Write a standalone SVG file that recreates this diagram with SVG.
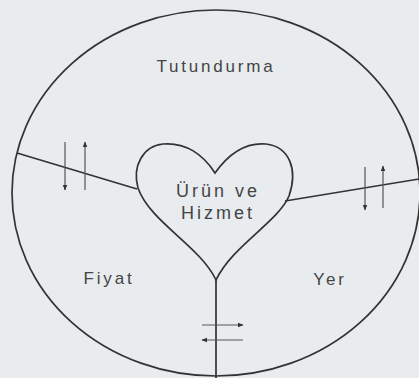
<svg xmlns="http://www.w3.org/2000/svg" width="419" height="378" viewBox="0 0 419 378">
<style>
.ln{fill:none;stroke:#333;stroke-width:1.7}
.ar{fill:none;stroke:#555;stroke-width:1.2}
.t{font-family:"Liberation Sans",Arial,sans-serif;fill:#454545;font-size:17px;letter-spacing:2.8px;text-anchor:middle}
</style>
<defs>
<marker id="ah" viewBox="0 0 10 10" refX="9" refY="5" markerWidth="6" markerHeight="6" orient="auto" markerUnits="userSpaceOnUse">
<path d="M0,1 L10,5 L0,9 Z" fill="#333"/>
</marker>
</defs>
<rect width="419" height="378" fill="#e8ecef"/>
<g id="circle"><ellipse class="ln" cx="216" cy="193" rx="204" ry="183"/></g>
<g id="connectors">
<path class="ln" d="M17,153 L137,189"/>
<path class="ln" d="M285,201 L419,179"/>
<path class="ln" d="M216,280 L216,378"/>
<path class="ar" d="M65,142 L65,190" marker-end="url(#ah)"/>
<path class="ar" d="M85,190 L85,142" marker-end="url(#ah)"/>
<path class="ar" d="M365,167 L365,210" marker-end="url(#ah)"/>
<path class="ar" d="M383,208 L383,166" marker-end="url(#ah)"/>
<path class="ar" d="M202,325 L243,325" marker-end="url(#ah)"/>
<path class="ar" d="M243,340 L202,340" marker-end="url(#ah)"/>
</g>
<g id="heart">
<path class="ln" d="M215,173 C203,154 185,142 163,144 C143,146 132,166 138,188 C150,222 200,246 216,280 C232,246 278,222 289,196 C298,170 290,147 266,144 C244,142 227,156 215,173 Z"/>
<text class="t" x="218" y="197" style="font-size:18px;letter-spacing:3px">Ürün ve</text>
<text class="t" x="218" y="219" style="font-size:18px;letter-spacing:3px">Hizmet</text>
</g>
<g id="tutundurma"><text class="t" x="216" y="72">Tutundurma</text></g>
<g id="fiyat"><text class="t" x="109" y="284">Fiyat</text></g>
<g id="yer"><text class="t" x="330" y="285">Yer</text></g>
</svg>
